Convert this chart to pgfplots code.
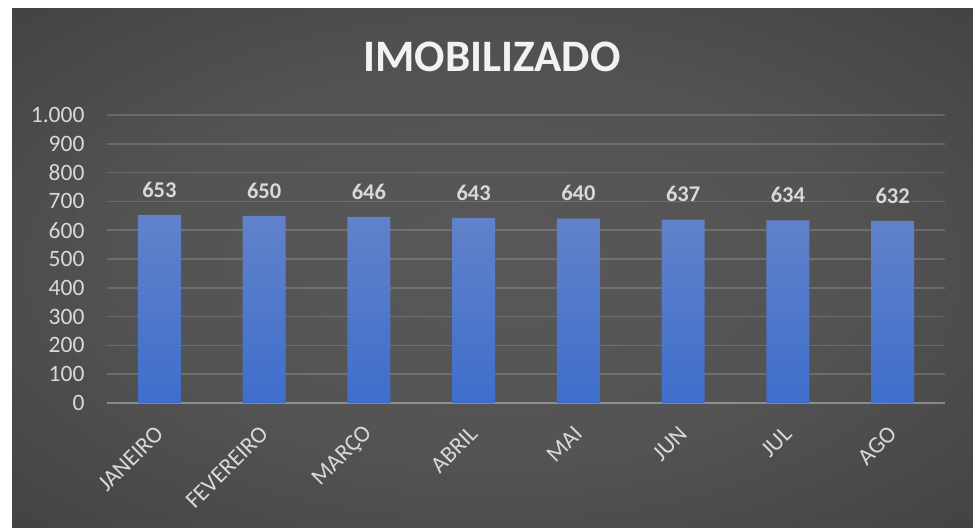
\documentclass[border=0pt]{standalone}
\usepackage{pgfplots}
\pgfplotsset{compat=1.18}
\usepackage{fontspec}
\setmainfont{Carlito}
\definecolor{bgin}{RGB}{88,88,88}
\definecolor{bgmid}{RGB}{58,58,58}
\definecolor{bgout}{RGB}{36,36,36}
\definecolor{bartop}{RGB}{98,130,202}
\definecolor{barbot}{RGB}{62,110,204}
\definecolor{txt}{RGB}{217,217,217}
\definecolor{gridc}{RGB}{255,255,255}
\pgfdeclareradialshading{bgshade}{\pgfpoint{0bp}{0bp}}{color(0bp)=(bgin); color(18bp)=(bgin!85!bgmid); color(45bp)=(bgmid); color(71bp)=(bgout)}
\begin{document}
\begin{tikzpicture}[x=1pt,y=1pt]
\fill[white] (0,0) rectangle (973,527);
\shade[shading=bgshade] (12,0) rectangle (973,518);
\node[text=white!95!black, font=\fontsize{45}{52}\selectfont\bfseries, anchor=center] at (492,470) {IMOBILIZADO};
\begin{axis}[
  at={(107pt,124pt)}, anchor=south west,
  scale only axis, width=838pt, height=288pt,
  xmin=-0.5, xmax=7.5, ymin=0, ymax=1000,
  ytick={0,100,...,1000},
  xtick={0,...,7},
  xticklabels={JANEIRO,FEVEREIRO,MARÇO,ABRIL,MAI,JUN,JUL,AGO},
  axis line style={draw=none},
  major tick length=0pt,
  xmajorgrids=false,
  ymajorgrids=true, grid style={draw=gridc, opacity=0.16, line width=1.5pt},
  tick label style={text=txt, font=\fontsize{23.5}{27}\selectfont},
  /pgf/number format/assume math mode=true,
  /pgf/number format/.cd, 1000 sep={.}, /pgfplots/.cd,
  yticklabel style={anchor=east, xshift=-19pt},
  xticklabel style={rotate=45, anchor=east, inner sep=0pt},
  xticklabel shift=27pt,
  clip=false,
]
\addplot[draw=gridc, draw opacity=0.22, line width=1.5pt] coordinates {(-0.5,0) (7.5,0)};
\addplot[ybar, bar width=43pt, draw=none, top color=bartop, bottom color=barbot,
  nodes near coords,
  every node near coord/.append style={text=txt, font=\fontsize{22.5}{26}\selectfont\bfseries, anchor=south, yshift=14pt},
] coordinates {(0,653) (1,650) (2,646) (3,643) (4,640) (5,637) (6,634) (7,632)};
\end{axis}
\end{tikzpicture}
\end{document}
